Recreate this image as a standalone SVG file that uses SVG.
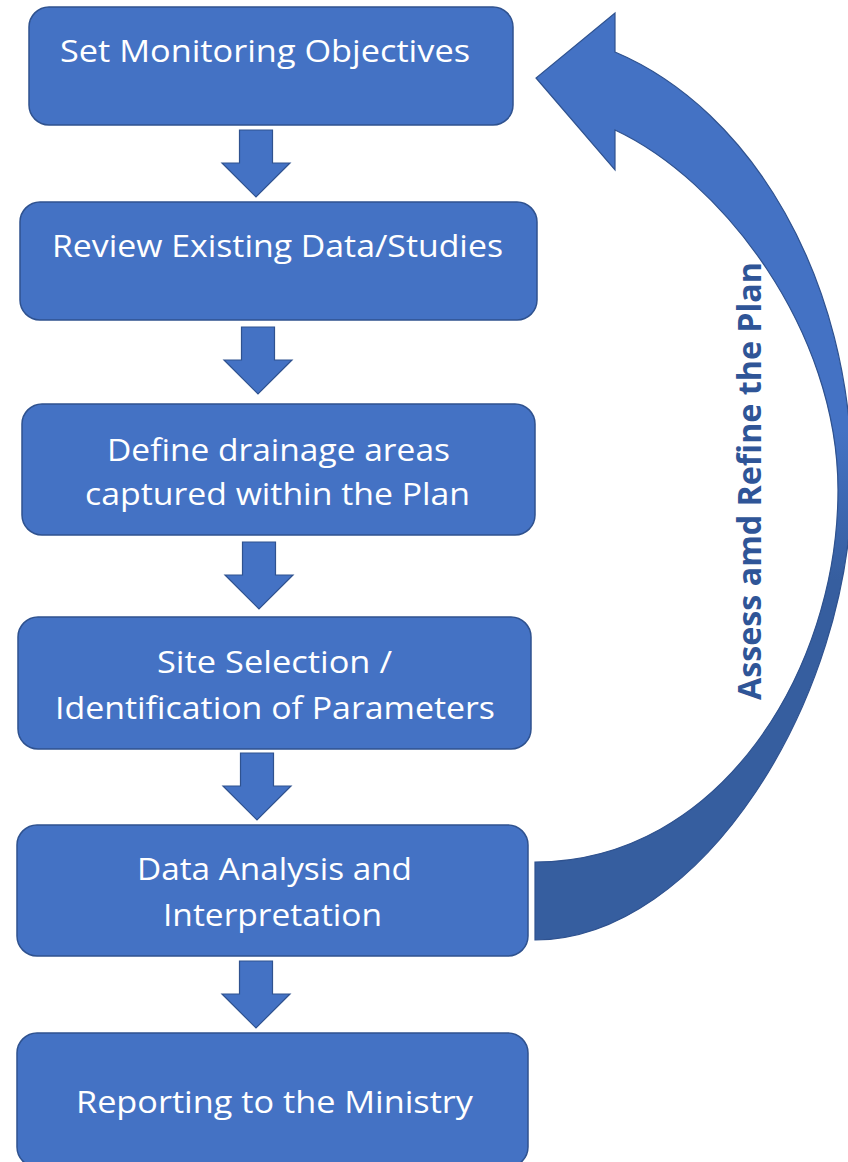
<svg xmlns="http://www.w3.org/2000/svg" width="848" height="1162" viewBox="0 0 848 1162">
  <defs>
    <style>
      .box { fill: #4472C4; stroke: #2F528F; stroke-width: 1.5; }
      .down { fill: #4472C4; stroke: #2F528F; stroke-width: 1.2; stroke-linejoin: miter; }
      .lbl { fill: #FFFFFF; font-family: "Open Sans", "Noto Sans", sans-serif; font-size: 31px; }
      .side { fill: #2F5597; font-family: "Open Sans", "Noto Sans", sans-serif; font-size: 32px; font-weight: bold; }
    </style>
    <linearGradient id="loopShade" gradientUnits="userSpaceOnUse" x1="0" y1="430" x2="0" y2="580">
      <stop offset="0" stop-color="#4472C4"/>
      <stop offset="1" stop-color="#365E9F"/>
    </linearGradient>
    <!-- block arrow pointing down, origin at the shaft's top centre -->
    <path id="downArrow" d="M-16.5,0 H16.5 V33 H34 L0,67 L-34,33 H-16.5 Z"/>
  </defs>

  <!-- feedback loop: curved block arrow from the analysis step back to the objectives -->
  <g id="feedback">
    <path d="M535,940 C700,940 852,700 852,480 C852,280 752,110 615,52 L615,13 L536,78 L615,170 L615,130 C722,180 838,330 838,490 C838,670 720,862 535,862 Z"
          fill="url(#loopShade)" stroke="#2F528F" stroke-width="1.2"/>
    <text class="side" transform="translate(761,700) rotate(-90)" x="0" y="0" textLength="438" lengthAdjust="spacingAndGlyphs">Assess amd Refine the Plan</text>
  </g>

  <!-- step-to-step connectors -->
  <g id="connectors">
    <use href="#downArrow" class="down" x="256" y="130"/>
    <use href="#downArrow" class="down" x="258" y="327"/>
    <use href="#downArrow" class="down" x="259" y="542"/>
    <use href="#downArrow" class="down" x="257" y="753"/>
    <use href="#downArrow" class="down" x="256" y="961"/>
  </g>

  <g id="objectives">
    <rect class="box" x="29" y="7" width="484" height="118" rx="20"/>
    <text class="lbl" x="60" y="62" textLength="410" lengthAdjust="spacingAndGlyphs">Set Monitoring Objectives</text>
  </g>

  <g id="review">
    <rect class="box" x="20" y="202" width="517" height="118" rx="20"/>
    <text class="lbl" x="52" y="257" textLength="451" lengthAdjust="spacingAndGlyphs">Review Existing Data/Studies</text>
  </g>

  <g id="drainage">
    <rect class="box" x="22" y="404" width="513" height="131" rx="20"/>
    <text class="lbl" x="107" y="461" textLength="343" lengthAdjust="spacingAndGlyphs">Define drainage areas</text>
    <text class="lbl" x="85" y="505" textLength="385" lengthAdjust="spacingAndGlyphs">captured within the Plan</text>
  </g>

  <g id="sites">
    <rect class="box" x="18" y="617" width="513" height="132" rx="20"/>
    <text class="lbl" x="157" y="673" textLength="235" lengthAdjust="spacingAndGlyphs">Site Selection /</text>
    <text class="lbl" x="55" y="719" textLength="440" lengthAdjust="spacingAndGlyphs">Identification of Parameters</text>
  </g>

  <g id="analysis">
    <rect class="box" x="17" y="825" width="511" height="131" rx="20"/>
    <text class="lbl" x="137" y="880" textLength="275" lengthAdjust="spacingAndGlyphs">Data Analysis and</text>
    <text class="lbl" x="163" y="926" textLength="219" lengthAdjust="spacingAndGlyphs">Interpretation</text>
  </g>

  <g id="reporting">
    <rect class="box" x="17" y="1033" width="511" height="134" rx="20"/>
    <text class="lbl" x="76" y="1113" textLength="397" lengthAdjust="spacingAndGlyphs">Reporting to the Ministry</text>
  </g>
</svg>
